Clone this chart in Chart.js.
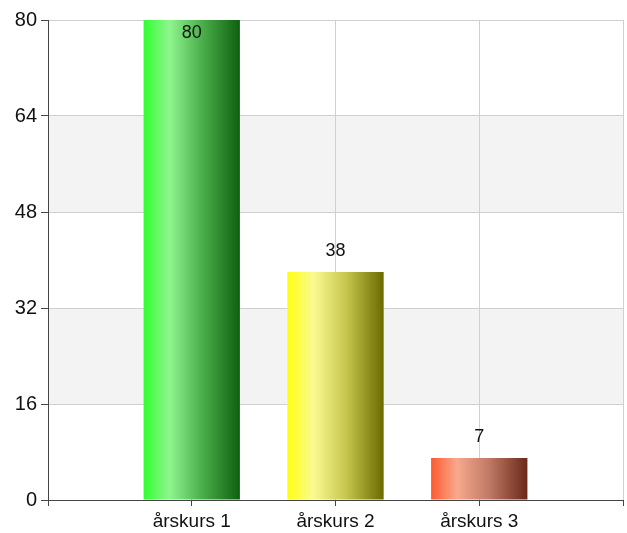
<!DOCTYPE html>
<html lang="sv">
<head>
    <meta charset="UTF-8">
    <title>årskurs</title>
    <script src="https://cdn.jsdelivr.net/npm/chart.js"></script>
    <style>
        body { margin: 0; background: #fff; }
        #wrap { width: 627px; height: 533px; }
    </style>
</head>
<body>
    <div id="wrap"><canvas id="myChart" width="627" height="533"></canvas></div>

    <script>
        // data
        const categories = ['', 'årskurs 1', 'årskurs 2', 'årskurs 3', ''];
        const values = [null, 80, 38, 7, null];
        const yMin = 0, yMax = 80, yStep = 16;
        // gradient stops per bar (left -> right)
        const barColors = [
            null,
            ['#30ff30', '#8ff58f', '#4cb04c', '#0f600f'],
            ['#ffff10', '#fafa92', '#c8c850', '#6a6a00'],
            ['#ff5a30', '#f7a98c', '#c07a66', '#6a281a'],
            null
        ];
        const BAR_PCT = 0.67;
        const FONT = '"Liberation Sans", Arial, sans-serif';

        function barGradient(c) {
            const chart = c.chart;
            const stops = barColors[c.dataIndex];
            if (!stops || !chart.chartArea) return '#888';
            const xs = chart.scales.x;
            const cx = xs.getPixelForValue(c.dataIndex);
            const half = (xs.getPixelForValue(1) - xs.getPixelForValue(0)) * BAR_PCT / 2;
            const g = chart.ctx.createLinearGradient(cx - half, 0, cx + half, 0);
            g.addColorStop(0, stops[0]);
            g.addColorStop(0.27, stops[1]);
            g.addColorStop(0.6, stops[2]);
            g.addColorStop(1, stops[3]);
            return g;
        }

        // alternating bands behind the grid
        const bands = {
            id: 'bands',
            beforeDraw(chart) {
                const { ctx, chartArea: a, scales: { y } } = chart;
                ctx.save();
                ctx.fillStyle = '#f3f3f3';
                for (let v = yMin, i = 0; v < yMax; v += yStep, i++) {
                    if (i % 2 === 1) {
                        const t = y.getPixelForValue(v + yStep);
                        const b = y.getPixelForValue(v);
                        ctx.fillRect(a.left, t, a.right - a.left, b - t);
                    }
                }
                ctx.restore();
            }
        };

        // value labels
        const valueLabels = {
            id: 'valueLabels',
            afterDatasetsDraw(chart) {
                const ctx = chart.ctx;
                const meta = chart.getDatasetMeta(0);
                ctx.save();
                ctx.font = '18px ' + FONT;
                ctx.fillStyle = '#111';
                ctx.textAlign = 'center';
                ctx.textBaseline = 'middle';
                meta.data.forEach((bar, i) => {
                    const v = values[i];
                    if (v === null) return;
                    let y = bar.y - 21;
                    if (y < chart.chartArea.top + 5) y = bar.y + 13;
                    ctx.fillText(String(v), bar.x, y);
                });
                ctx.restore();
            }
        };

        const ctx = document.getElementById('myChart').getContext('2d');
        new Chart(ctx, {
            type: 'bar',
            data: {
                labels: categories,
                datasets: [{
                    data: values,
                    backgroundColor: barGradient,
                    borderWidth: 0,
                    categoryPercentage: 1,
                    barPercentage: BAR_PCT
                }]
            },
            options: {
                responsive: false,
                animation: false,
                layout: { padding: { top: 20, right: 3, left: 0, bottom: 0 } },
                plugins: { legend: { display: false }, tooltip: { enabled: false } },
                scales: {
                    x: {
                        offset: false,
                        afterFit(s) { s.height = 33; },
                        grid: {
                            offset: false,
                            color: (c) => c.index === 0 ? 'rgba(0,0,0,0)' : '#d0d0d0',
                            tickColor: '#444',
                            tickLength: 6,
                            lineWidth: 1
                        },
                        border: { color: '#444', width: 1 },
                        ticks: {
                            color: '#111',
                            font: { family: FONT, size: 19 },
                            maxRotation: 0,
                            autoSkip: false,
                            padding: 4
                        }
                    },
                    y: {
                        min: yMin,
                        max: yMax,
                        afterFit(s) { s.width = 48; },
                        grid: {
                            color: (c) => c.index === 0 ? 'rgba(0,0,0,0)' : '#d0d0d0',
                            tickColor: '#444',
                            tickLength: 7
                        },
                        border: { color: '#444', width: 1 },
                        ticks: {
                            stepSize: yStep,
                            color: '#111',
                            font: { family: FONT, size: 20 },
                            padding: 4
                        }
                    }
                }
            },
            plugins: [bands, valueLabels]
        });
    </script>
</body>
</html>
